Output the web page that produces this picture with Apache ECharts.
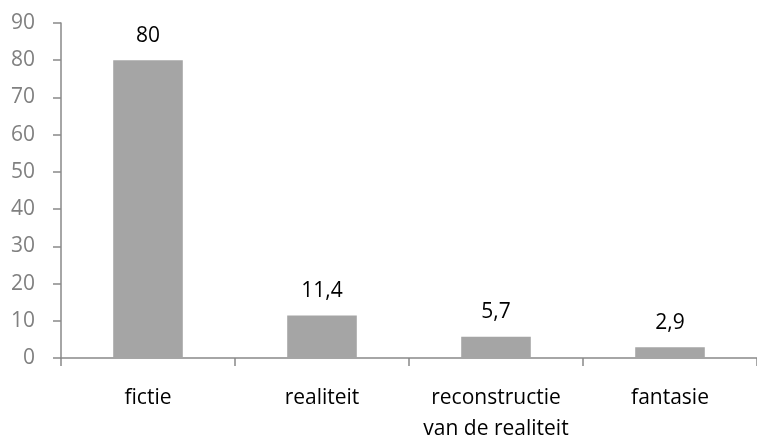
<!DOCTYPE html>
<html><head><meta charset="utf-8">
<script src="https://cdn.jsdelivr.net/npm/echarts@6/dist/echarts.min.js"></script>
<style>html,body{margin:0;padding:0;background:#fff}#c{width:757px;height:437px}</style>
</head><body><div id="c"></div>
<script>
const categories = ['fictie', 'realiteit', 'reconstructie\nvan de realiteit', 'fantasie'];
const values = [80, 11.4, 5.7, 2.9];
const yTicks = { min: 0, max: 90, interval: 10 };
const font = 'Open Sans';
const chart = echarts.init(document.getElementById('c'));
chart.setOption({
  animation: false,
  grid: { left: 61, right: 0, top: 23, bottom: 79, containLabel: false, outerBoundsMode: 'none' },
  xAxis: {
    type: 'category', data: categories,
    axisLine: { lineStyle: { color: '#898989', width: 1.5 } },
    axisTick: { show: true, length: 8, lineStyle: { color: '#898989', width: 1.5 } },
    axisLabel: { color: '#000', fontFamily: font, fontSize: 21, margin: 25, lineHeight: 31, interval: 0 }
  },
  yAxis: {
    type: 'value', min: yTicks.min, max: yTicks.max, interval: yTicks.interval,
    axisLine: { show: true, lineStyle: { color: '#898989', width: 1.5 } },
    axisTick: { show: true, length: 8, lineStyle: { color: '#898989', width: 1.5 } },
    splitLine: { show: false },
    axisLabel: { color: '#808080', fontFamily: font, fontSize: 21, margin: 26 }
  },
  series: [{
    type: 'bar', data: values, barWidth: '40%',
    itemStyle: { color: '#a5a5a5' },
    label: { show: true, position: 'top', distance: 14, color: '#000', fontFamily: font, fontSize: 21,
      formatter: p => String(p.value).replace('.', ',') }
  }]
});
</script></body></html>
